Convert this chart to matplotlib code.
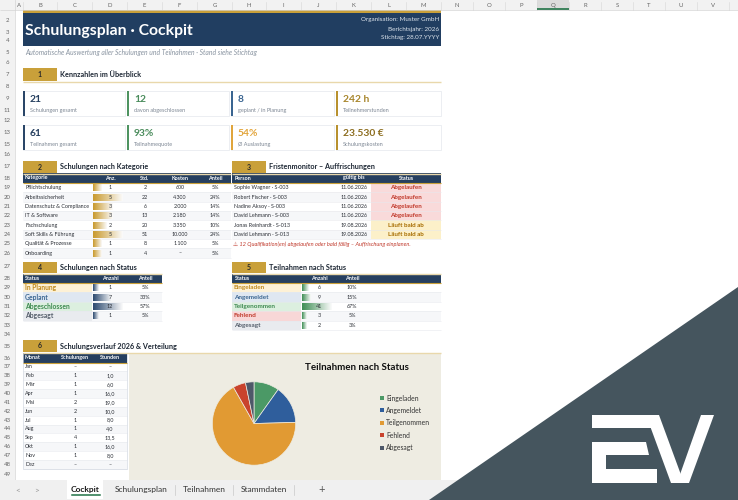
import matplotlib
matplotlib.use("Agg")
import numpy as np
import matplotlib.pyplot as plt
from matplotlib.patches import Rectangle, Polygon
from matplotlib.colors import LinearSegmentedColormap

plt.rcParams['font.family'] = ['Lato', 'DejaVu Sans']

# ---------------- data ----------------
banner_title = 'Schulungsplan · Cockpit'
banner_info = ['Organisation: Muster GmbH', 'Berichtsjahr: 2026', 'Stichtag: 28.07.YYYY']
subtitle = 'Automatische Auswertung aller Schulungen und Teilnahmen · Stand siehe Stichtag'

kpi_values = ['21', '12', '8', '242 h', '61', '93%', '54%', '23.530 €']
kpi_labels = ['Schulungen gesamt', 'davon abgeschlossen', 'geplant / in Planung', 'Teilnehmerstunden',
              'Teilnahmen gesamt', 'Teilnahmequote', 'Ø Auslastung', 'Schulungskosten']

kat_names = ['Pflichtschulung', 'Arbeitssicherheit', 'Datenschutz & Compliance', 'IT & Software',
             'Fachschulung', 'Soft Skills & Führung', 'Qualität & Prozesse', 'Onboarding']
kat_anz = [1, 5, 3, 3, 2, 5, 1, 1]
kat_std = [2, 22, 6, 13, 20, 51, 8, 4]
kat_kosten = ['600', '4.300', '2.000', '2.180', '3.350', '10.000', '1.100', '–']
kat_anteil = ['5%', '24%', '14%', '14%', '10%', '24%', '5%', '5%']

frist_person = ['Sophie Wagner · S-003', 'Robert Fischer · S-003', 'Nadine Aksoy · S-003',
                'David Lehmann · S-003', 'Jonas Reinhardt · S-013', 'David Lehmann · S-013']
frist_datum = ['11.06.2026', '11.06.2026', '11.06.2026', '11.06.2026', '19.08.2026', '19.08.2026']
frist_status = ['Abgelaufen', 'Abgelaufen', 'Abgelaufen', 'Abgelaufen', 'Läuft bald ab', 'Läuft bald ab']
frist_hinweis = '⚠ 12 Qualifikation(en) abgelaufen oder bald fällig – Auffrischung einplanen.'

sstat_names = ['In Planung', 'Geplant', 'Abgeschlossen', 'Abgesagt']
sstat_anz = [1, 7, 12, 1]
sstat_anteil = ['5%', '33%', '57%', '5%']

tstat_names = ['Eingeladen', 'Angemeldet', 'Teilgenommen', 'Fehlend', 'Abgesagt']
tstat_anz = [6, 9, 41, 3, 2]
tstat_anteil = ['10%', '15%', '67%', '5%', '3%']

monate = ['Jan', 'Feb', 'Mär', 'Apr', 'Mai', 'Jun', 'Jul', 'Aug', 'Sep', 'Okt', 'Nov', 'Dez']
monat_schulungen = ['–', '1', '1', '1', '2', '2', '1', '1', '4', '1', '1', '–']
monat_stunden = ['–', '1,0', '6,0', '16,0', '19,0', '10,0', '8,0', '4,0', '13,5', '16,0', '8,0', '–']

pie_colors = ['#4b9966', '#2f5e9c', '#e19a33', '#c9432d', '#4e5869']
sheet_tabs = ['Cockpit', 'Schulungsplan', 'Teilnahmen', 'Stammdaten']
col_letters = list('ABCDEFGHIJKLMNOPQRSTUV')

# ---------------- layout ----------------
col_edges = [15, 23, 57, 92, 127, 162, 197, 232, 266, 301, 336, 371, 406, 441,
             473, 505, 537, 569, 601, 633, 665, 697, 729]
row_labels = {2: 20, 3: 32, 4: 41, 5: 52, 6: 62, 7: 74, 8: 86, 9: 99, 11: 110, 12: 120,
              13: 132, 15: 144, 16: 155, 17: 167, 18: 178}
for i in range(8):
    row_labels[19 + i] = 187.7 + 9.35 * i
row_labels[27] = 266
row_labels[28] = 278.5
for i in range(5):
    row_labels[29 + i] = 287.7 + 9.4 * i
row_labels[34] = 334.5
row_labels[35] = 346
row_labels[36] = 358
for i in range(12):
    row_labels[37 + i] = 367 + 8.85 * i
row_labels[49] = 474

NAVY = '#213e61'
HEAD = '#263f5f'
GOLD = '#c9a03a'
GOLD_LIGHT = '#e9d8ab'
TXT = '#2b2f36'
BODY = 3.9

fig = plt.figure(figsize=(7.38, 5.0), dpi=100)
ax = fig.add_axes([0, 0, 1, 1])
ax.axis('off')


def box(x0, y0, x1, y1, fc, ec='none', lw=0, z=1):
    ax.add_patch(Rectangle((x0, y0), x1 - x0, y1 - y0, facecolor=fc, edgecolor=ec, linewidth=lw, zorder=z))


def txt(x, y, s, size=BODY, color=TXT, ha='left', weight='normal', style='normal', z=6):
    ax.text(x, y, s, fontsize=size, color=color, ha=ha, va='center',
            fontweight=weight, fontstyle=style, zorder=z)


def hline(x0, x1, y, color, lw=0.6, z=4):
    ax.plot([x0, x1], [y, y], color=color, lw=lw, zorder=z, solid_capstyle='butt')


def databar(x0, yc, value, vmax, color, h=7.0):
    w = 3 + 27 * value / vmax
    cmap = LinearSegmentedColormap.from_list('db', [color, '#fbfbfb'])
    ax.imshow(np.linspace(0, 1, 64).reshape(1, -1), cmap=cmap, aspect='auto',
              extent=(x0, x0 + w, yc + h / 2, yc - h / 2), zorder=3, interpolation='bilinear')


def section(x0, x1, ytop, ybot, num, title):
    box(x0, ytop, x0 + 34, ybot, GOLD, z=2)
    txt(x0 + 17, (ytop + ybot) / 2, num, ha='center', weight='bold', size=5.0, color='#2a2a2a')
    txt(x0 + 37, (ytop + ybot) / 2, title, weight='bold', size=5.2, color='#1d2734')
    hline(x0, x1, ybot + 0.6, GOLD_LIGHT, lw=1.0)


def table_header(x0, x1, y0, y1, cols):
    box(x0, y0, x1, y1, HEAD, z=2)
    hline(x0, x1, y1 + 0.4, GOLD, lw=0.8, z=4)
    for x, s, ha in cols:
        txt(x, (y0 + y1) / 2, s, size=3.9, color='white', ha=ha, weight='bold')


# ---------------- sheet chrome ----------------
box(0, 0, 738, 10, '#f2f2f2', z=1)
hline(0, 738, 10, '#d4d4d4', lw=0.5)
for i, letter in enumerate(col_letters):
    x0, x1 = col_edges[i], col_edges[i + 1]
    if letter == 'Q':
        box(x0, 0, x1, 10, '#dcdcdc', z=1.5)
        hline(x0, x1, 9.3, '#217346', lw=1.2, z=5)
    ax.plot([x1, x1], [1.5, 10], color='#d6d6d6', lw=0.4, zorder=2)
    txt((x0 + x1) / 2, 5.3, letter, size=4.3, color='#666666', ha='center')
box(0, 10, 15, 480, '#f2f2f2', z=1)
ax.plot([15, 15], [0, 480], color='#d4d4d4', lw=0.5, zorder=2)
for r, yc in row_labels.items():
    txt(7.5, yc, str(r), size=4.3, color='#666666', ha='center')

# ---------------- banner ----------------
box(23, 10, 441, 13, GOLD, z=2)
box(23, 13, 441, 46, NAVY, z=2)
txt(25, 31, banner_title, size=11.3, color='white', weight='bold')
for i, s in enumerate(banner_info):
    txt(439, 20 + 9 * i, s, size=4.5, color='#dde4ec', ha='right')
txt(25, 52, subtitle, size=4.9, color='#8893a0', style='italic')

# ---------------- section 1: KPI cards ----------------
section(23, 441, 68, 81, '1', 'Kennzahlen im Überblick')
card_x = [(23, 125), (127, 229), (231, 334), (336, 441)]
card_y = [91, 125]
accent = ['#2a4668', '#4e9360', '#3a6591', '#b8912e', '#2a4668', '#4e9360', '#e0a53c', '#b8912e']
value_col = ['#253f5f', '#4a8c5c', '#3a6591', '#a8862c', '#253f5f', '#4a8c5c', '#e2a53c', '#8c6d1f']
for k in range(8):
    x0, x1 = card_x[k % 4]
    y0 = card_y[k // 4]
    box(x0, y0, x1, y0 + 25, 'white', ec='#e4e8ed', lw=0.5, z=2)
    box(x0, y0, x0 + 1.8, y0 + 25, accent[k], z=3)
    txt(x0 + 7, y0 + 8.5, kpi_values[k], size=7.4, color=value_col[k], weight='bold')
    txt(x0 + 7, y0 + 19.5, kpi_labels[k], size=4.0, color='#7d8794')

# ---------------- section 2: categories ----------------
section(23, 231, 161, 173, '2', 'Schulungen nach Kategorie')
table_header(23, 231, 173, 183, [(25, 'Kategorie', 'left'), (110, 'Anz.', 'center'),
                                (145, 'Std.', 'center'), (180, 'Kosten', 'center'),
                                (215, 'Anteil', 'center')])
for i, name in enumerate(kat_names):
    yc = 187.7 + 9.35 * i
    y0 = yc - 4.67
    box(23, y0, 231, y0 + 9.35, '#f6f7f9' if i % 2 else 'white', z=1.5)
    hline(23, 231, y0 + 9.35, '#e6e9ee', lw=0.4, z=2)
    txt(25, yc, name)
    databar(93, yc, kat_anz[i], max(kat_anz), '#c99a2e')
    txt(110, yc, str(kat_anz[i]), ha='center')
    txt(145, yc, str(kat_std[i]), ha='center')
    txt(180, yc, kat_kosten[i], ha='center')
    txt(215, yc, kat_anteil[i], ha='center')

# ---------------- section 3: Fristenmonitor ----------------
section(232, 441, 161, 173, '3', 'Fristenmonitor – Auffrischungen')
table_header(232, 441, 173, 183, [(235, 'Person', 'left'), (354, 'gültig bis', 'center'),
                                 (406, 'Status', 'center')])
for i, person in enumerate(frist_person):
    yc = 187.7 + 9.35 * i
    y0 = yc - 4.67
    box(232, y0, 371, y0 + 9.35, '#f6f7f9' if i % 2 else 'white', z=1.5)
    expired = frist_status[i] == 'Abgelaufen'
    box(371, y0, 441, y0 + 9.35, '#f9dada' if expired else '#fcf0c9', z=1.5)
    hline(232, 441, y0 + 9.35, '#e8e8ec', lw=0.4, z=2)
    txt(234, yc, person)
    txt(368, yc, frist_datum[i], ha='right')
    txt(406, yc, frist_status[i], size=4.5, ha='center', weight='bold',
        color='#c0392b' if expired else '#a66c00')
txt(233, 243.8, frist_hinweis, size=4.1, color='#c0392b', style='italic')

# status colours shared by tables 4 and 5
status_style = {
    'In Planung': ('#fdf1d6', '#c08a1e'), 'Eingeladen': ('#fdf1d6', '#c08a1e'),
    'Geplant': ('#dfe7f1', '#3a6591'), 'Angemeldet': ('#dfe7f1', '#3a6591'),
    'Abgeschlossen': ('#dcefdf', '#3d8a50'), 'Teilgenommen': ('#dcefdf', '#3d8a50'),
    'Fehlend': ('#f8d7d7', '#c0392b'), 'Abgesagt': ('#e9ebef', '#555e6b'),
}

# ---------------- section 4: Schulungen nach Status ----------------
section(23, 162, 262, 273, '4', 'Schulungen nach Status')
table_header(23, 162, 274, 283, [(25, 'Status', 'left'), (110, 'Anzahl', 'center'),
                                (145, 'Anteil', 'center')])
for i, name in enumerate(sstat_names):
    yc = 287.7 + 9.4 * i
    y0 = yc - 4.7
    bg, fg = status_style[name]
    box(92, y0, 162, y0 + 9.4, '#f6f7f9' if i % 2 else 'white', z=1.5)
    box(23, y0, 92, y0 + 9.4, bg, z=1.5)
    hline(23, 162, y0 + 9.4, '#e6e9ee', lw=0.4, z=2)
    txt(25, yc, name, size=4.9, color=fg, weight='bold')
    databar(93, yc, sstat_anz[i], max(sstat_anz), '#2c4a70')
    txt(110, yc, str(sstat_anz[i]), ha='center')
    txt(145, yc, sstat_anteil[i], ha='center')

# ---------------- section 5: Teilnahmen nach Status ----------------
section(232, 441, 262, 273, '5', 'Teilnahmen nach Status')
table_header(232, 441, 274, 283, [(235, 'Status', 'left'), (319, 'Anzahl', 'center'),
                                 (352, 'Anteil', 'center')])
for i, name in enumerate(tstat_names):
    yc = 287.7 + 9.4 * i
    y0 = yc - 4.7
    bg, fg = status_style[name]
    box(301, y0, 441, y0 + 9.4, '#f6f7f9' if i % 2 else 'white', z=1.5)
    box(232, y0, 301, y0 + 9.4, bg, z=1.5)
    hline(232, 441, y0 + 9.4, '#e6e9ee', lw=0.4, z=2)
    txt(234, yc, name, size=4.6, color=fg, weight='bold')
    databar(302, yc, tstat_anz[i], max(tstat_anz), '#3f8f55')
    txt(319, yc, str(tstat_anz[i]), ha='center')
    txt(352, yc, tstat_anteil[i], ha='center')

# ---------------- section 6: Verlauf & Verteilung ----------------
section(23, 441, 340, 352, '6', 'Schulungsverlauf 2026 & Verteilung')
table_header(23, 127, 353, 362.5, [(25, 'Monat', 'left'), (75, 'Schulungen', 'center'),
                                  (110, 'Stunden', 'center')])
for i, m in enumerate(monate):
    yc = 367 + 8.85 * i
    y0 = yc - 4.42
    box(23, y0, 127, y0 + 8.85, '#f6f7f9' if i % 2 else 'white', z=1.5)
    hline(23, 127, y0 + 8.85, '#e6e9ee', lw=0.4, z=2)
    txt(25, yc, m)
    txt(75, yc, monat_schulungen[i], ha='center')
    txt(110, yc, monat_stunden[i], ha='center')
box(23, 353, 127, 469, 'none', ec='#d5dbe3', lw=0.5, z=3)

# chart area
box(129, 353, 441, 480, '#eeece2', z=1.5)
txt(357, 368, 'Teilnahmen nach Status', size=7.0, color='#111111', ha='center', weight='bold')
pax = fig.add_axes([211.5 / 738, (500 - 466) / 500, 85 / 738, 85 / 500])
wedges, _ = pax.pie(tstat_anz, colors=pie_colors, startangle=90, counterclock=False,
                    wedgeprops=dict(linewidth=0.5, edgecolor='#eeece2'))
pax.set_xlim(-1.02, 1.02)
pax.set_ylim(-1.02, 1.02)
pax.set_aspect('auto')
for i, name in enumerate(tstat_names):
    yl = 398 + 12.4 * i
    box(380, yl - 2, 384, yl + 2, pie_colors[i], z=4)
    txt(386, yl, name, size=4.9, color='#333333')

# ---------------- tab bar ----------------
box(15, 469, 441, 480, 'white', z=1.2)
box(0, 480, 738, 500, '#f0f0f0', z=7)
txt(18, 490, '<', size=6, color='#9a9a9a', ha='center', z=8)
txt(37, 490, '>', size=6, color='#9a9a9a', ha='center', z=8)
box(67, 480, 103, 499, 'white', z=7.5)
ax.plot([72, 100], [494.5, 494.5], color='#217346', lw=1.1, zorder=8)
tab_x = [85, 141, 204, 264]
for i, name in enumerate(sheet_tabs):
    txt(tab_x[i], 489.5, name, size=6.0, color='#1a1a1a' if i == 0 else '#333333',
        ha='center', weight='bold' if i == 0 else 'normal', z=8)
for xs in [175, 233, 294]:
    ax.plot([xs, xs], [485, 495], color='#c8c8c8', lw=0.5, zorder=8)
txt(322, 489.5, '+', size=8, color='#555555', ha='center', z=8)

# ---------------- watermark ----------------
ax.add_patch(Polygon([(738, 287), (738, 500), (429, 500)], closed=True,
                     facecolor='#45555e', edgecolor='none', zorder=9))
logo = [
    [(592, 415), (656, 415), (659, 428), (592, 428)],
    [(592, 442), (646, 442), (649, 455), (606, 455), (606, 469), (657, 469), (657, 483), (592, 483)],
    [(646, 415), (659, 415), (684, 483), (671, 483)],
    [(701, 415), (714, 415), (689, 483), (677, 483)],
]
for pts in logo:
    ax.add_patch(Polygon(pts, closed=True, facecolor='white', edgecolor='none', zorder=10))

ax.set_xlim(0, 738)
ax.set_ylim(500, 0)
fig.savefig('out.png', dpi=100)
